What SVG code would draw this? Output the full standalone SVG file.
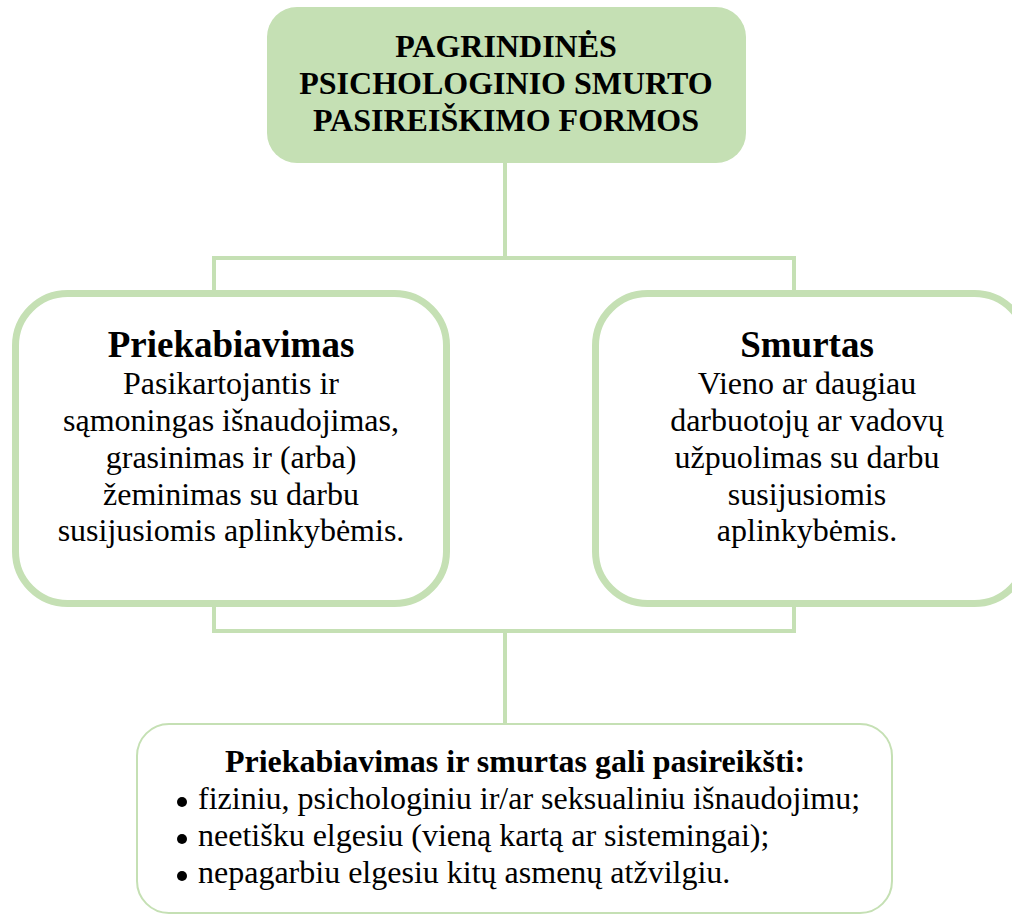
<svg xmlns="http://www.w3.org/2000/svg" width="1012" height="916" viewBox="0 0 1012 916">
<style>
.t{font-family:"Liberation Serif","Times New Roman",serif;fill:#000;text-anchor:middle}
.b{font-weight:bold}
.s32{font-size:32px}
.s37{font-size:37px}
.conn{fill:none;stroke:#c5e0b4;stroke-width:4}
.box{fill:#fff;stroke:#c5e0b4;stroke-width:7}
.lt{text-anchor:start}
</style>
<rect width="1012" height="916" fill="#fff"/>
<g id="connectors">
<path class="conn" d="M505,163 V258 M214,258 H794 M214,256 V293 M794,256 V293"/>
<path class="conn" d="M214,604 V631 H794 V604 M505,631 V724"/>
</g>
<g id="title">
<rect x="267" y="7" width="479" height="156" rx="30" ry="30" fill="#c5e0b4"/>
<text class="t b s32" x="506" y="57">PAGRINDINĖS</text>
<text class="t b s32" x="506" y="94">PSICHOLOGINIO SMURTO</text>
<text class="t b s32" x="506" y="131">PASIREIŠKIMO FORMOS</text>
</g>
<g id="priekabiavimas">
<rect class="box" x="15.5" y="293.5" width="431" height="310" rx="52" ry="52"/>
<text class="t b s37" x="231" y="357">Priekabiavimas</text>
<text class="t s32" x="231" y="394">Pasikartojantis ir</text>
<text class="t s32" x="231" y="431">sąmoningas išnaudojimas,</text>
<text class="t s32" x="231" y="468">grasinimas ir (arba)</text>
<text class="t s32" x="231" y="505">žeminimas su darbu</text>
<text class="t s32" x="231" y="541">susijusiomis aplinkybėmis.</text>
</g>
<g id="smurtas">
<rect class="box" x="595.5" y="293.5" width="431" height="310" rx="52" ry="52"/>
<text class="t b s37" x="807" y="357">Smurtas</text>
<text class="t s32" x="807" y="394">Vieno ar daugiau</text>
<text class="t s32" x="807" y="431">darbuotojų ar vadovų</text>
<text class="t s32" x="807" y="468">užpuolimas su darbu</text>
<text class="t s32" x="807" y="505">susijusiomis</text>
<text class="t s32" x="807" y="541">aplinkybėmis.</text>
</g>
<g id="formos">
<rect x="137" y="724" width="755" height="189" rx="32" ry="32" fill="#fff" stroke="#c5e0b4" stroke-width="2"/>
<text class="t b s32" x="515" y="772">Priekabiavimas ir smurtas gali pasireikšti:</text>
<circle cx="182" cy="802" r="5"/>
<circle cx="182" cy="839" r="5"/>
<circle cx="182" cy="876" r="5"/>
<text class="t s32 lt" x="198" y="809">fiziniu, psichologiniu ir/ar seksualiniu išnaudojimu;</text>
<text class="t s32 lt" x="198" y="846">neetišku elgesiu (vieną kartą ar sistemingai);</text>
<text class="t s32 lt" x="198" y="883">nepagarbiu elgesiu kitų asmenų atžvilgiu.</text>
</g>
</svg>
